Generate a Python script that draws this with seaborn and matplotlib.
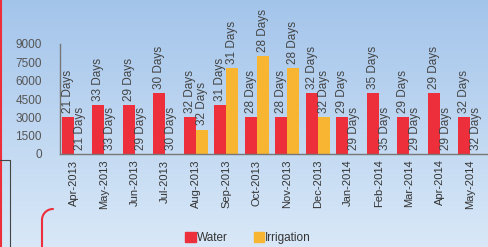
import numpy as np
import pandas as pd
import matplotlib
matplotlib.use("Agg")
import matplotlib.pyplot as plt
import seaborn as sns
from matplotlib.lines import Line2D
from matplotlib.patches import Patch

months = ["Apr-2013", "May-2013", "Jun-2013", "Jul-2013", "Aug-2013", "Sep-2013", "Oct-2013",
          "Nov-2013", "Dec-2013", "Jan-2014", "Feb-2014", "Mar-2014", "Apr-2014", "May-2014"]
water = [3000, 4000, 4000, 5000, 3000, 4000, 3000, 3000, 5000, 3000, 5000, 3000, 5000, 3000]
irrigation = [0, 0, 0, 0, 2000, 7000, 8000, 7000, 3000, 0, 0, 0, 0, 0]
days = [21, 33, 29, 30, 32, 31, 28, 28, 32, 29, 35, 29, 29, 32]
series = ["Water", "Irrigation"]
colors = {"Water": "#EC2F3A", "Irrigation": "#F7B532"}
yticks = [0, 1500, 3000, 4500, 6000, 7500, 9000]

df = pd.DataFrame({
    "month": months * 2,
    "value": water + irrigation,
    "series": ["Water"] * len(months) + ["Irrigation"] * len(months),
})

sns.set_style("white")
plt.rcParams['font.family'] = ['Liberation Sans', 'DejaVu Sans']

fig = plt.figure(figsize=(4.88, 2.47), dpi=100)

# gradient background
bg = fig.add_axes([0, 0, 1, 1], zorder=-10)
grad = np.linspace(0, 1, 256).reshape(-1, 1)
top = np.array([0.64, 0.77, 0.92])
bot = np.array([0.85, 0.91, 0.97])
img = top[None, None, :] * (1 - grad[:, :, None]) + bot[None, None, :] * grad[:, :, None]
bg.imshow(img, aspect="auto", extent=[0, 1, 0, 1], origin="upper")
bg.set_axis_off()

# axes: left 60px, bottom at y=154, top at y=44
ax = fig.add_axes([60 / 488, (247 - 154) / 247, (487 - 60) / 488, (154 - 44) / 247])
ax.patch.set_alpha(0)
sns.barplot(data=df, x="month", y="value", hue="series", palette=colors,
            hue_order=series, order=months, width=0.8, saturation=1, ax=ax,
            legend=False, linewidth=0)

for cont in ax.containers:
    ax.bar_label(cont, labels=[f"{d} Days" for d in days], rotation=90, padding=3,
                 fontsize=8.5, color="#444444")

ax.set_xlim(-0.45, 13.55)
ax.set_ylim(0, 9000)
ax.set_yticks(yticks)
ax.set_yticklabels([str(t) for t in yticks], fontsize=8.5, color="#555555")
ax.tick_params(axis="y", direction="in", length=4, pad=13, color="#777777", width=0.8)
ax.tick_params(axis="x", length=0, pad=4)
ax.set_xticks(range(len(months)))
ax.set_xticklabels(months, rotation=90, fontsize=8, color="#333333")
ax.set_xlabel("")
ax.set_ylabel("")
for s in ["top", "right"]:
    ax.spines[s].set_visible(False)
for s in ["left", "bottom"]:
    ax.spines[s].set_color("#777777")
    ax.spines[s].set_linewidth(1.0)

# legend
handles = [Patch(color=colors[s], label=s) for s in series]
fig.legend(handles=handles, loc="center", bbox_to_anchor=(248 / 488, 1 - 238 / 247),
           ncol=2, frameon=False, fontsize=8.5, handlelength=0.9, handleheight=0.9,
           handletextpad=0.1, columnspacing=2.2, labelcolor="#333333")

# decorative frame fragments
def px(x, y):
    return x / 488, 1 - y / 247
fig.add_artist(Line2D([px(1, 0)[0], px(1, 0)[0]], [0, 1], color="#EC2F3A", lw=1.5))
fig.add_artist(Line2D([0, px(10, 0)[0], px(10, 0)[0]], [px(0, 160)[1], px(0, 160)[1], 0],
                      color="#444444", lw=0.8))
t = np.linspace(0, np.pi / 2, 20)
cx, cy, r = 53, 220, 11
xs = [cx - r * np.sin(a) for a in t]
ys = [cy - r * np.cos(a) for a in t]
xs = xs + [42]
ys = ys + [247]
fig.add_artist(Line2D([x / 488 for x in xs], [1 - y / 247 for y in ys], color="#EC2F3A", lw=1.5))

fig.savefig("out.png", dpi=100)
